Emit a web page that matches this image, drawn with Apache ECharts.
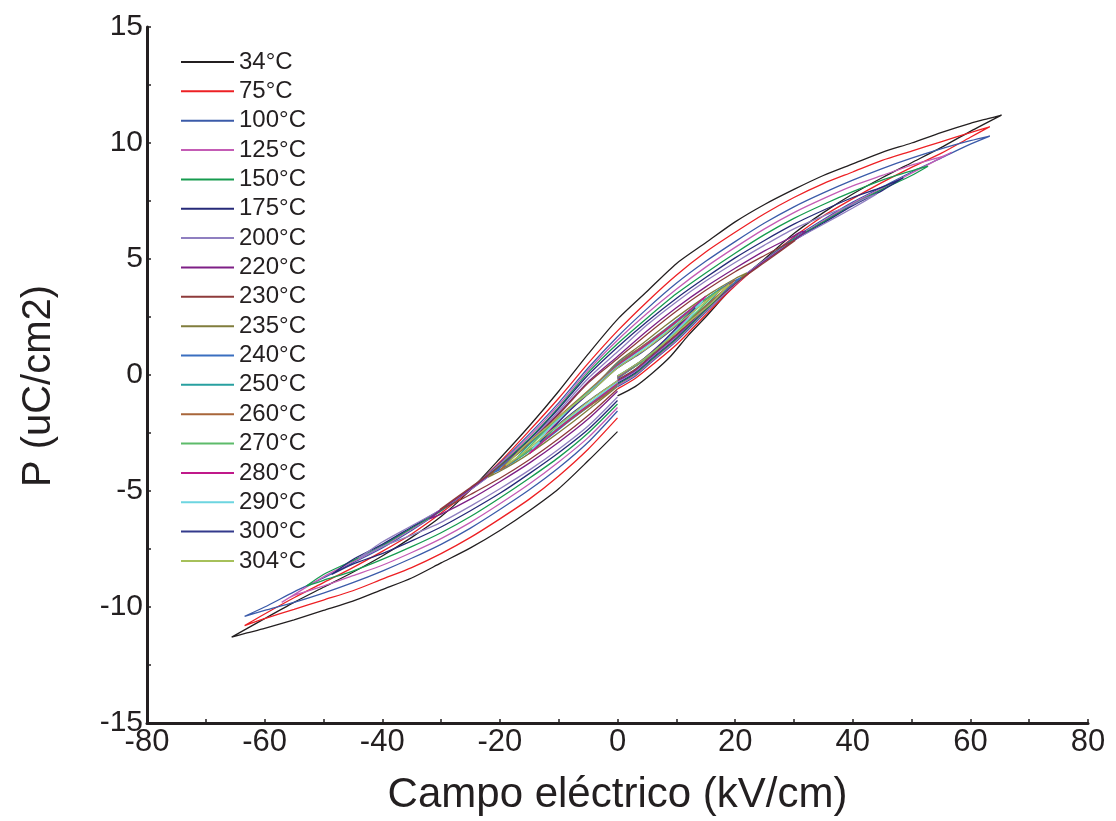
<!DOCTYPE html>
<html><head><meta charset="utf-8">
<script src="https://cdn.jsdelivr.net/npm/echarts@6/dist/echarts.min.js"></script>
<style>html,body{margin:0;padding:0;background:#fff}#c{width:1116px;height:821px}</style>
</head><body><div id="c"></div><script>
// Legend labels (temperatures)
const temps = ['34°C','75°C','100°C','125°C','150°C','175°C','200°C','220°C','230°C','235°C','240°C','250°C','260°C','270°C','280°C','290°C','300°C','304°C'];
const colors = ['#231f20','#ed2024','#3b5ba9','#c45cb5','#169b4f','#262a78','#8f7fc0','#7e1f86','#8e3b3b','#807d3c','#3a6fc0','#28a0a0','#a8663a','#5dbb6a','#c0198a','#6dd5e0','#333a8c','#a6c05a'];
const xTicks = [-80,-60,-40,-20,0,20,40,60,80];
const yTicks = [-15,-10,-5,0,5,10,15];
const xTitle = 'Campo eléctrico (kV/cm)';
const yTitle = 'P (uC/cm2)';

// Loops: [E (kV/cm), P (uC/cm2)] in drawing order
const p34 = [[0,-0.9],[3,-0.5],[6,0.1],[9,0.8],[12,1.7],[15,2.5],[20,3.9],[25,5.0],[30,6.1],[35,7.0],[40,7.8],[45,8.5],[50,9.15],[55,9.8],[60,10.5],[65.3,11.2],
  [63,11.05],[60,10.85],[55,10.45],[50,10.0],[45,9.6],[40,9.1],[35,8.6],[30,8.0],[25,7.35],[20,6.6],[15,5.7],[10,4.8],[5,3.6],[0,2.4],[-5,0.9],[-10,-0.7],[-15,-2.2],[-20,-3.6],[-25,-4.95],[-30,-6.1],[-35,-7.0],[-40,-7.8],[-45,-8.5],[-50,-9.15],[-55,-9.8],[-60,-10.5],[-65.6,-11.3],
  [-63,-11.12],[-60,-10.92],[-55,-10.55],[-50,-10.15],[-45,-9.75],[-40,-9.25],[-35,-8.75],[-30,-8.1],[-25,-7.45],[-20,-6.7],[-15,-5.85],[-10,-4.9],[-5,-3.7],[0,-2.44]];
const p75 = [[0,-0.6],[3,-0.15],[6,0.45],[10,1.3],[15,2.6],[20,3.85],[25,4.95],[30,5.95],[35,6.85],[40,7.6],[45,8.3],[50,8.95],[55,9.55],[60,10.25],[63.3,10.7],
  [60,10.45],[55,10.05],[50,9.65],[45,9.25],[40,8.75],[35,8.25],[30,7.65],[25,6.95],[20,6.15],[15,5.3],[10,4.3],[5,3.15],[0,1.9],[-5,0.5],[-10,-1.0],[-15,-2.4],[-20,-3.75],[-25,-4.95],[-30,-5.95],[-35,-6.85],[-40,-7.6],[-45,-8.3],[-50,-8.95],[-55,-9.6],[-60,-10.3],[-63.4,-10.8],
  [-60,-10.5],[-55,-10.1],[-50,-9.7],[-45,-9.3],[-40,-8.8],[-35,-8.3],[-30,-7.7],[-25,-7.0],[-20,-6.2],[-15,-5.35],[-10,-4.35],[-5,-3.2],[0,-1.85]];
const p100 = [[0,-0.5],[3,-0.05],[6,0.6],[10,1.45],[15,2.7],[20,3.9],[25,4.95],[30,5.9],[35,6.7],[40,7.45],[45,8.1],[50,8.75],[55,9.35],[60,9.95],[63.3,10.3],
  [60,10.1],[55,9.75],[50,9.35],[45,8.9],[40,8.4],[35,7.85],[30,7.25],[25,6.55],[20,5.75],[15,4.9],[10,3.95],[5,2.85],[0,1.65],[-5,0.3],[-10,-1.2],[-15,-2.55],[-20,-3.8],[-25,-4.9],[-30,-5.85],[-35,-6.7],[-40,-7.45],[-45,-8.1],[-50,-8.75],[-55,-9.35],[-60,-10.0],[-63.4,-10.4],
  [-60,-10.15],[-55,-9.8],[-50,-9.4],[-45,-8.95],[-40,-8.45],[-35,-7.9],[-30,-7.3],[-25,-6.6],[-20,-5.8],[-15,-4.95],[-10,-4.0],[-5,-2.9],[0,-1.55]];
const p125 = [[0,-0.45],[3,0.0],[6,0.65],[10,1.5],[15,2.75],[20,3.9],[25,4.95],[30,5.85],[35,6.65],[40,7.4],[45,8.05],[50,8.7],[56.8,9.6],
  [55,9.4],[50,9.05],[45,8.6],[40,8.15],[35,7.6],[30,7.0],[25,6.3],[20,5.5],[15,4.65],[10,3.7],[5,2.65],[0,1.5],[-5,0.2],[-10,-1.3],[-15,-2.65],[-20,-3.85],[-25,-4.9],[-30,-5.85],[-35,-6.65],[-40,-7.4],[-45,-8.05],[-50,-8.7],[-57.1,-9.8],
  [-55,-9.5],[-50,-9.1],[-45,-8.65],[-40,-8.2],[-35,-7.65],[-30,-7.05],[-25,-6.35],[-20,-5.55],[-15,-4.7],[-10,-3.75],[-5,-2.7],[0,-1.4]];
const p150 = [[0,-0.4],[3,0.05],[6,0.7],[10,1.55],[15,2.8],[20,3.95],[25,4.95],[30,5.85],[35,6.6],[40,7.35],[45,8.0],[50,8.6],[52.8,9.0],
  [50,8.8],[45,8.4],[40,7.9],[35,7.35],[30,6.75],[25,6.05],[20,5.25],[15,4.4],[10,3.5],[5,2.45],[0,1.35],[-5,0.1],[-10,-1.4],[-15,-2.75],[-20,-3.9],[-25,-4.9],[-30,-5.85],[-35,-6.6],[-40,-7.35],[-45,-8.0],[-50,-8.6],[-52.9,-9.1],
  [-50,-8.85],[-45,-8.45],[-40,-7.95],[-35,-7.4],[-30,-6.8],[-25,-6.1],[-20,-5.3],[-15,-4.45],[-10,-3.55],[-5,-2.5],[0,-1.25]];
const p175 = [[0,-0.35],[3,0.1],[6,0.75],[10,1.6],[15,2.85],[20,3.95],[25,4.95],[30,5.8],[35,6.55],[40,7.3],[45,7.95],[48.6,8.5],
  [45,8.1],[40,7.65],[35,7.1],[30,6.5],[25,5.8],[20,5.05],[15,4.2],[10,3.3],[5,2.3],[0,1.2],[-5,0.0],[-10,-1.45],[-15,-2.8],[-20,-3.95],[-25,-4.95],[-30,-5.8],[-35,-6.55],[-40,-7.3],[-45,-7.95],[-48.6,-8.6],
  [-45,-8.15],[-40,-7.7],[-35,-7.15],[-30,-6.55],[-25,-5.85],[-20,-5.1],[-15,-4.25],[-10,-3.35],[-5,-2.35],[0,-1.1]];
const p200 = [[0,-0.3],[3,0.15],[6,0.8],[10,1.65],[15,2.9],[20,4.0],[25,4.95],[30,5.8],[35,6.5],[40,7.2],[44.1,7.8],
  [42,7.6],[40,7.35],[35,6.85],[30,6.3],[25,5.6],[20,4.85],[15,4.05],[10,3.15],[5,2.15],[0,1.0],[-5,-0.15],[-10,-1.55],[-15,-2.85],[-20,-4.0],[-25,-4.95],[-30,-5.8],[-35,-6.5],[-40,-7.2],[-44,-7.9],
  [-42,-7.65],[-40,-7.4],[-35,-6.9],[-30,-6.35],[-25,-5.65],[-20,-4.9],[-15,-4.1],[-10,-3.2],[-5,-2.2],[0,-0.95]];
const p220 = [[0,-0.25],[3,0.2],[6,0.85],[10,1.7],[15,2.9],[20,3.95],[25,4.9],[30,5.8],[32,6.2],
  [31,6.15],[30,6.0],[25,5.35],[20,4.6],[15,3.8],[10,2.9],[5,1.9],[0,0.8],[-5,-0.3],[-10,-1.65],[-15,-2.9],[-20,-3.95],[-25,-4.9],[-30,-5.8],[-32,-6.2],
  [-30,-6.0],[-25,-5.35],[-20,-4.6],[-15,-3.8],[-10,-2.9],[-5,-1.9],[0,-0.7]];
const p230 = [[0,-0.2],[3,0.25],[6,0.9],[10,1.75],[15,2.9],[20,3.95],[25,4.85],[30.2,5.8],
  [28,5.55],[25,5.15],[20,4.45],[15,3.65],[10,2.75],[5,1.75],[0,0.7],[-5,-0.35],[-10,-1.7],[-15,-2.9],[-20,-3.95],[-25,-4.85],[-30.2,-5.8],
  [-28,-5.55],[-25,-5.15],[-20,-4.45],[-15,-3.65],[-10,-2.75],[-5,-1.75],[0,-0.6]];
const p235 = [[0,-0.15],[4,0.6],[8,1.45],[12,2.35],[16,3.2],[19,3.8],[22,4.4],
  [20,4.15],[16,3.55],[12,2.85],[8,2.1],[4,1.3],[0,0.55],[-4,-0.5],[-8,-1.4],[-12,-2.3],[-16,-3.2],[-19,-3.8],[-22,-4.4],
  [-20,-4.15],[-16,-3.55],[-12,-2.85],[-8,-2.1],[-4,-1.3],[0,-0.5]];
const p240 = [[0,-0.15],[4,0.55],[8,1.4],[12,2.3],[16,3.15],[21,4.2],
  [19,3.95],[16,3.45],[12,2.75],[8,1.95],[4,1.2],[0,0.5],[-4,-0.5],[-8,-1.4],[-12,-2.3],[-16,-3.15],[-21,-4.2],
  [-19,-3.95],[-16,-3.45],[-12,-2.75],[-8,-1.95],[-4,-1.2],[0,-0.45]];
const p250 = [[0,-0.1],[4,0.55],[8,1.4],[12,2.3],[15,3.0],[18,3.8],
  [16,3.45],[12,2.7],[8,1.9],[4,1.15],[0,0.45],[-4,-0.5],[-8,-1.4],[-12,-2.3],[-15,-3.0],[-18,-3.8],
  [-16,-3.45],[-12,-2.7],[-8,-1.9],[-4,-1.15],[0,-0.4]];
const p260 = [[0,-0.1],[4,0.55],[8,1.4],[12,2.3],[16,3.2],[20,4.1],
  [18,3.75],[14,3.05],[10,2.3],[6,1.55],[2,0.85],[0,0.45],[-4,-0.45],[-8,-1.35],[-12,-2.25],[-16,-3.15],[-20,-4.1],
  [-18,-3.75],[-14,-3.05],[-10,-2.3],[-6,-1.55],[-2,-0.85],[0,-0.4]];
const p270 = [[0,-0.1],[4,0.55],[8,1.4],[12,2.35],[17,3.6],
  [15,3.25],[12,2.65],[8,1.85],[4,1.1],[0,0.4],[-4,-0.5],[-8,-1.4],[-12,-2.35],[-17,-3.6],
  [-15,-3.25],[-12,-2.65],[-8,-1.85],[-4,-1.1],[0,-0.35]];
const p280 = [[0,-0.1],[4,0.6],[8,1.5],[12,2.5],[15,3.4],
  [13,2.95],[10,2.3],[6,1.5],[3,0.95],[0,0.4],[-4,-0.55],[-8,-1.5],[-12,-2.5],[-15,-3.4],
  [-13,-2.95],[-10,-2.3],[-6,-1.5],[-3,-0.95],[0,-0.35]];
const p290 = [[0,-0.05],[4,0.6],[8,1.45],[12,2.4],[14.5,3.2],
  [12,2.6],[8,1.8],[4,1.05],[0,0.35],[-4,-0.55],[-8,-1.45],[-12,-2.4],[-14.5,-3.2],
  [-12,-2.6],[-8,-1.8],[-4,-1.05],[0,-0.3]];
const p300 = [[0,-0.05],[4,0.6],[8,1.5],[13.2,2.9],
  [11,2.35],[8,1.7],[4,0.95],[0,0.3],[-4,-0.6],[-8,-1.5],[-13.2,-2.9],
  [-11,-2.35],[-8,-1.7],[-4,-0.95],[0,-0.25]];
const p304 = [[0,-0.05],[4,0.6],[8,1.4],[12,2.25],[16,3.1],[19,3.9],
  [17,3.55],[13,2.75],[9,1.95],[5,1.15],[0,0.3],[-4,-0.6],[-8,-1.4],[-12,-2.25],[-16,-3.1],[-19,-3.9],
  [-17,-3.55],[-13,-2.75],[-9,-1.95],[-5,-1.15],[0,-0.25]];

const loops = [p34,p75,p100,p125,p150,p175,p200,p220,p230,p235,p240,p250,p260,p270,p280,p290,p300,p304];

const FONT = 'Liberation Sans, Arial, sans-serif';
const INK = '#231f20';

const chart = echarts.init(document.getElementById('c'), null, {renderer:'canvas'});
chart.setOption({
  animation: false,
  backgroundColor: '#fff',
  grid: {left:147, right:28, top:27, bottom:98, containLabel:false},
  legend: {
    orient:'vertical', left:180, top:50, padding:0,
    itemWidth:53, itemHeight:14, itemGap:5.35,
    data: temps,
    itemStyle:{opacity:0},
    textStyle:{fontFamily:FONT, fontSize:24, lineHeight:24, color:INK},
    selectedMode:false
  },
  xAxis: {
    type:'value', min:xTicks[0], max:xTicks[xTicks.length-1], interval:20,
    axisLine:{show:true, onZero:false, lineStyle:{color:INK, width:3}},
    axisTick:{show:true, inside:true, length:4, lineStyle:{color:INK, width:1.5}},
    minorTick:{show:true, splitNumber:2, length:4, lineStyle:{color:INK, width:1.5}},
    splitLine:{show:false},
    axisLabel:{fontFamily:FONT, fontSize:31, color:INK, margin:4},
    name:xTitle, nameLocation:'middle', nameGap:51,
    nameTextStyle:{fontFamily:FONT, fontSize:42, color:INK}
  },
  yAxis: {
    type:'value', min:yTicks[0], max:yTicks[yTicks.length-1], interval:5,
    axisLine:{show:true, onZero:false, lineStyle:{color:INK, width:3}},
    axisTick:{show:true, inside:true, length:4, lineStyle:{color:INK, width:1.5}},
    minorTick:{show:true, splitNumber:2, length:4, lineStyle:{color:INK, width:1.5}},
    splitLine:{show:false},
    axisLabel:{fontFamily:FONT, fontSize:30, color:INK, margin:4},
    name:yTitle, nameLocation:'middle', nameRotate:90, nameGap:88,
    nameTextStyle:{fontFamily:FONT, fontSize:40, color:INK, padding:[0,22,0,0]}
  },
  series: loops.map((d,i)=>({
    type:'line', name:temps[i], data:d, symbol:'none', smooth:0.25,
    lineStyle:{color:colors[i], width:1.3}, itemStyle:{color:colors[i]},
    emphasis:{disabled:true}, z:2+i
  }))
});
</script></body></html>
